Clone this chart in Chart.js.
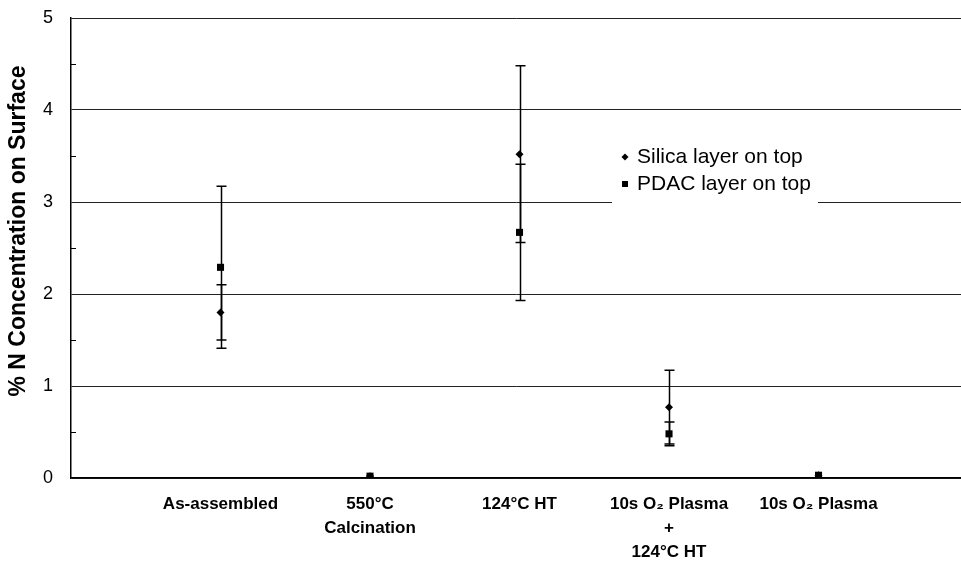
<!DOCTYPE html>
<html><head><meta charset="utf-8">
<script src="https://cdn.jsdelivr.net/npm/chart.js@4/dist/chart.umd.min.js"></script>
<style>html,body{margin:0;padding:0;background:#fff}#wrap{width:961px;height:561px;position:relative}</style>
</head><body><div id="wrap"><canvas id="c"></canvas></div>
<script>
const categories = ['As-assembled', ['550°C','Calcination'], '124°C HT', ['10s O₂ Plasma','+','124°C HT'], '10s O₂ Plasma'];
const catPositions = [1, 2, 3, 4, 5];
const silicaValues = [1.80, 0.02, 3.52, 0.77, 0.03];
const silicaErrors = [0.30, 0, 0.96, 0.40, 0];
const pdacValues = [2.29, 0.02, 2.67, 0.48, 0.03];
const pdacErrors = [0.88, 0, 0.74, 0.13, 0];
const seriesNames = ['Silica layer on top', 'PDAC layer on top'];
const yTitle = '% N Concentration on Surface';
const FONT = "'Liberation Sans', Arial, sans-serif";

const extras = {
  id: 'extras',
  beforeDatasetsDraw(chart) {
    const {ctx, scales: {x, y}} = chart;
    ctx.save();
    ctx.strokeStyle = '#000';
    ctx.lineWidth = 1.5;
    [[silicaValues, silicaErrors], [pdacValues, pdacErrors]].forEach(([vals, errs]) => {
      vals.forEach((v, i) => {
        const e = errs[i];
        if (!e) return;
        const px = Math.round(x.getPixelForValue(catPositions[i])) + 0.5;
        const t = y.getPixelForValue(v + e), b = y.getPixelForValue(v - e);
        ctx.beginPath();
        ctx.moveTo(px, t); ctx.lineTo(px, b);
        ctx.moveTo(px - 5, t); ctx.lineTo(px + 5, t);
        ctx.moveTo(px - 5, b); ctx.lineTo(px + 5, b);
        ctx.stroke();
      });
    });
    ctx.restore();
  },
  afterDraw(chart) {
    const {ctx, scales: {y}, chartArea} = chart;
    ctx.save();
    ctx.strokeStyle = '#000';
    ctx.lineWidth = 1;
    for (let v = 0.5; v < 5; v += 1) {
      const py = Math.round(y.getPixelForValue(v)) + 0.5;
      ctx.beginPath(); ctx.moveTo(chartArea.left, py); ctx.lineTo(chartArea.left + 5, py); ctx.stroke();
    }
    // legend
    ctx.fillStyle = '#fff';
    ctx.fillRect(612, 138, 206, 68);
    ctx.fillStyle = '#000';
    ctx.font = '21px ' + FONT;
    ctx.textBaseline = 'middle';
    ctx.textAlign = 'left';
    const rows = [157, 184];
    ctx.beginPath();
    ctx.moveTo(625, rows[0] - 3.5); ctx.lineTo(628.5, rows[0]); ctx.lineTo(625, rows[0] + 3.5); ctx.lineTo(621.5, rows[0]); ctx.closePath(); ctx.fill();
    ctx.fillRect(622, rows[1] - 3, 6, 6);
    ctx.fillText(seriesNames[0], 637, rows[0]);
    ctx.fillText(seriesNames[1], 637, rows[1]);
    // y title
    ctx.translate(19, 231);
    ctx.rotate(-Math.PI / 2);
    ctx.textAlign = 'center';
    ctx.font = 'bold 23px ' + FONT;
    ctx.fillText(yTitle, 0, 0);
    ctx.restore();
  }
};

function zeroPad(s) { s.paddingTop = 0; s.paddingBottom = 0; s.paddingLeft = 0; s.paddingRight = 0; }

new Chart(document.getElementById('c'), {
  type: 'scatter',
  data: {
    datasets: [
      {label: seriesNames[0], data: silicaValues.map((v, i) => ({x: catPositions[i], y: v})),
       pointStyle: 'rectRot', radius: 4, backgroundColor: '#000', borderColor: '#000', borderWidth: 0, order: 1},
      {label: seriesNames[1], data: pdacValues.map((v, i) => ({x: catPositions[i], y: v})),
       pointStyle: 'rect', radius: 5, backgroundColor: '#000', borderColor: '#000', borderWidth: 0, order: 0}
    ]
  },
  options: {
    responsive: true, maintainAspectRatio: false, animation: false,
    layout: {autoPadding: false, padding: {top: 18, right: 0, left: 0, bottom: 0}},
    plugins: {legend: {display: false}, tooltip: {enabled: false}},
    scales: {
      x: {
        type: 'linear', min: 0, max: 5.953,
        afterBuildTicks: s => { s.ticks = catPositions.map(v => ({value: v})); },
        afterFit: s => { s.height = 83; zeroPad(s); },
        grid: {display: false, drawTicks: false},
        border: {display: true, color: '#000', width: 1.5},
        ticks: {callback: (v, i) => categories[i], maxRotation: 0, autoSkip: false, padding: 14, color: '#000',
                font: {family: FONT, size: 17, weight: 'bold', lineHeight: 1.41}}
      },
      y: {
        min: 0, max: 5,
        afterFit: s => { s.width = 71; zeroPad(s); },
        grid: {color: '#222', lineWidth: 1, drawTicks: false},
        border: {display: true, color: '#000', width: 1.5},
        ticks: {stepSize: 1, padding: 18, color: '#000', font: {family: FONT, size: 18}}
      }
    }
  },
  plugins: [extras]
});
</script>
</body></html>
